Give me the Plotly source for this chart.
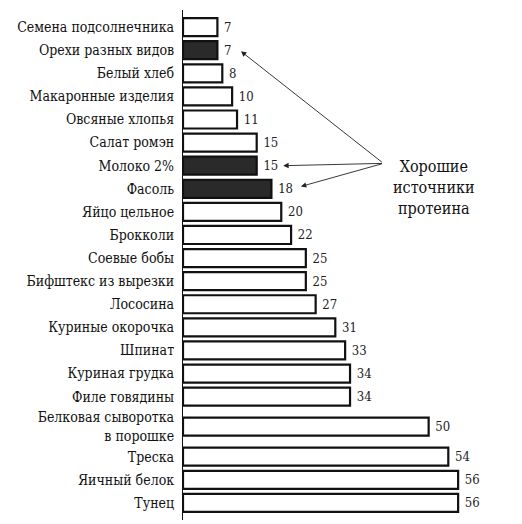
import plotly.graph_objects as go

categories = [
    "Семена подсолнечника", "Орехи разных видов", "Белый хлеб", "Макаронные изделия",
    "Овсяные хлопья", "Салат ромэн", "Молоко 2%", "Фасоль", "Яйцо цельное",
    "Брокколи", "Соевые бобы", "Бифштекс из вырезки", "Лососина", "Куриные окорочка",
    "Шпинат", "Куриная грудка", "Филе говядины", "Белковая сыворотка<br>в порошке",
    "Треска", "Яичный белок", "Тунец",
]
values = [7, 7, 8, 10, 11, 15, 15, 18, 20, 22, 25, 25, 27, 31, 33, 34, 34, 50, 54, 56, 56]
highlighted = ["Орехи разных видов", "Молоко 2%", "Фасоль"]
note_text = "Хорошие<br>источники<br>протеина"

# row positions: multi-line labels get a taller row
row_h = [1 + 0.6 * c.count("<br>") for c in categories]
ypos = []
acc = 0.0
for i, h in enumerate(row_h):
    if i > 0:
        acc += (row_h[i - 1] + h) / 2
    ypos.append(acc)

fills = ["#2a2a2a" if c in highlighted else "white" for c in categories]

font = "'DejaVu Serif Condensed', 'DejaVu Serif', serif"

fig = go.Figure(go.Bar(
    x=values, y=ypos, orientation="h",
    marker=dict(color=fills, line=dict(color="#111111", width=2.2)),
    width=0.78,
    texttemplate="\u00a0%{x}", textposition="outside",
    textfont=dict(family=font, size=13, color="#222"),
    cliponaxis=False,
))

def ycat(name, d=0.0):
    return ypos[categories.index(name)] + d

heads = [("Орехи разных видов", 11.8, 0.05), ("Молоко 2%", 20.4, 0.0), ("Фасоль", 24.0, -0.1)]
for cat, hx, dy in heads:
    fig.add_annotation(
        x=hx, y=ycat(cat, dy), xref="x", yref="y",
        ax=40.8, ay=ycat("Молоко 2%", -0.1), axref="x", ayref="y",
        text="", showarrow=True, arrowhead=2, arrowsize=1.2, arrowwidth=0.9,
        arrowcolor="#222",
    )
fig.add_annotation(
    x=51.0, y=ycat("Фасоль", -0.05), xref="x", yref="y",
    text=note_text, showarrow=False, align="center",
    font=dict(family=font, size=16, color="#111"),
)

fig.update_layout(
    width=514, height=516,
    margin=dict(l=175, r=0, t=2, b=4),
    plot_bgcolor="white", paper_bgcolor="white",
    showlegend=False,
)
fig.update_xaxes(range=[0, 69], visible=False)
fig.update_yaxes(
    tickvals=ypos, ticktext=categories,
    range=[ypos[-1] + 0.74, -0.74], showline=True, linecolor="#111", linewidth=1.2,
    ticks="", showgrid=False, zeroline=False, ticklabelstandoff=5,
    automargin=False,
    tickfont=dict(family=font, size=14, color="#111"),
)

fig.write_html("out.html")
